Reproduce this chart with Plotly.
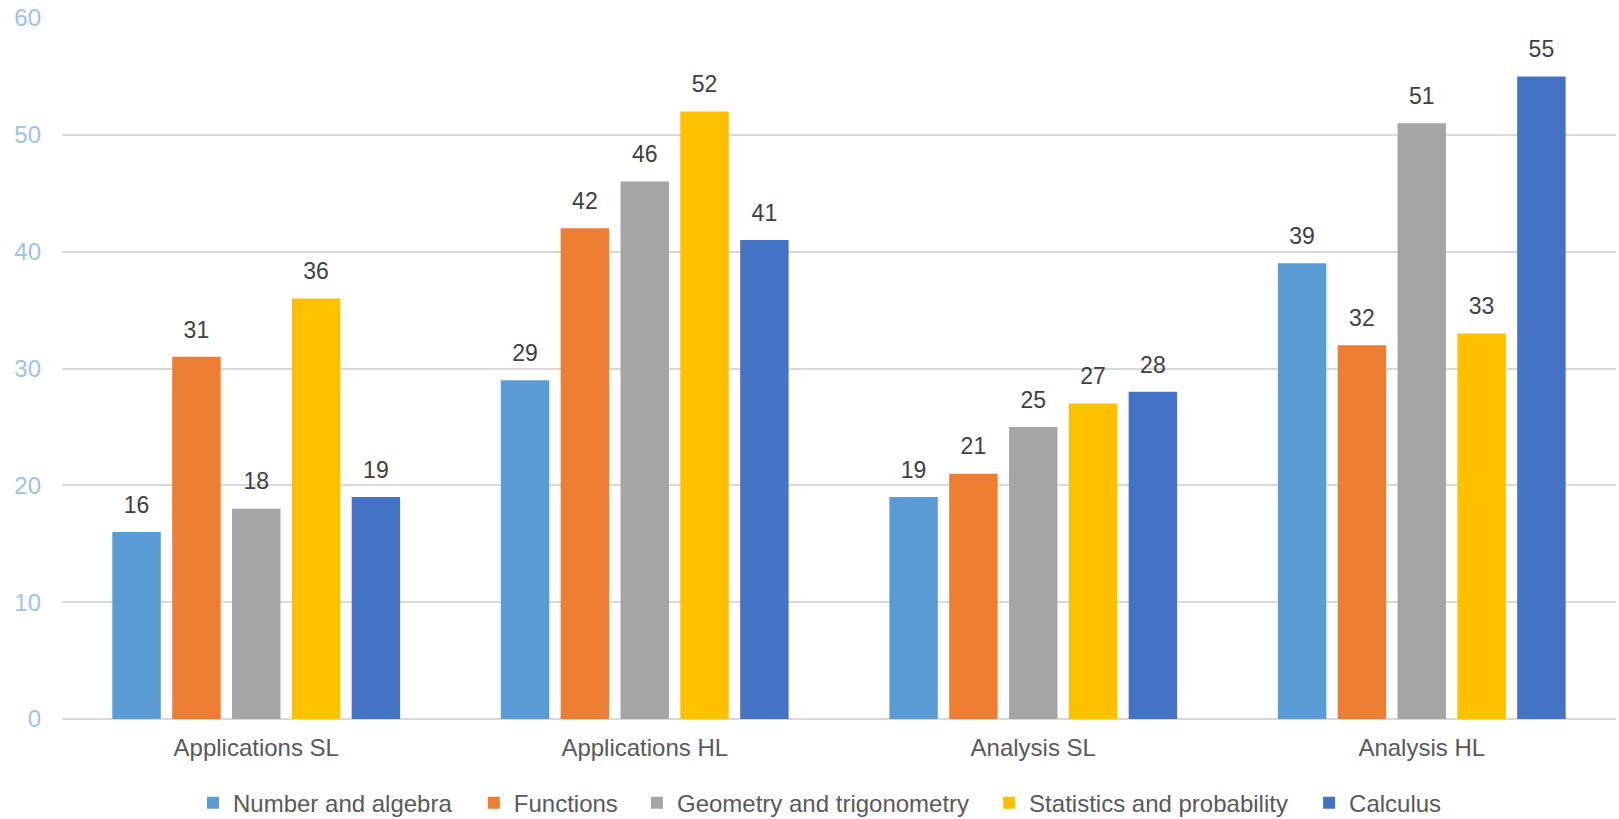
import plotly.graph_objects as go

categories = ["Applications SL", "Applications HL", "Analysis SL", "Analysis HL"]
series_names = ["Number and algebra", "Functions", "Geometry and trigonometry",
                "Statistics and probability", "Calculus"]
number_algebra = [16, 29, 19, 39]
functions = [31, 42, 21, 32]
geometry_trig = [18, 46, 25, 51]
stats_prob = [36, 52, 27, 33]
calculus = [19, 41, 28, 55]
y_ticks = [0, 10, 20, 30, 40, 50, 60]

series_values = [number_algebra, functions, geometry_trig, stats_prob, calculus]
colors = ["#5B9BD5", "#ED7D31", "#A5A5A5", "#FFC000", "#4472C4"]
legend_ids = ["legend", "legend2", "legend3", "legend4", "legend5"]
legend_x = [0.0843, 0.2650, 0.3700, 0.5966, 0.8025]

fig = go.Figure()
for name, vals, col, lid in zip(series_names, series_values, colors, legend_ids):
    fig.add_trace(go.Bar(
        x=categories, y=vals, name=name, marker_color=col,
        marker_line_width=0, legend=lid,
        text=[str(v) for v in vals], textposition="outside",
        texttemplate="<span style='font-size:23px'>%{text}</span><br> ",
        constraintext="none",
        textfont=dict(size=11, color="#404040", family="Liberation Sans, Arial"),
        cliponaxis=False,
    ))

legend_common = dict(orientation="h", xanchor="left", y=-0.12, yanchor="middle",
                     font=dict(size=24, color="#595959"), itemwidth=30,
                     bgcolor="rgba(0,0,0,0)")
legends = {lid: dict(x=lx, **legend_common) for lid, lx in zip(legend_ids, legend_x)}

fig.update_layout(
    width=1619, height=819,
    margin=dict(l=62, r=3, t=18, b=100, autoexpand=False),
    paper_bgcolor="white", plot_bgcolor="white",
    barmode="group", bargap=0.23, bargroupgap=0.19,
    font=dict(family="Liberation Sans, Arial", color="#595959", size=23),
    showlegend=True,
    xaxis=dict(showgrid=False, showline=False, ticks="", ticklabelstandoff=12,
               automargin=False, tickfont=dict(size=24, color="#595959")),
    yaxis=dict(range=[0, 60], tickvals=y_ticks, showgrid=True, gridcolor="#D9D9D9",
               gridwidth=1.5, zeroline=True, zerolinecolor="#D9D9D9", zerolinewidth=1.5,
               showline=False, ticks="", ticklabelstandoff=20, automargin=False,
               tickfont=dict(size=24, color="#9DC3E6")),
    **legends,
)

fig.write_html("out.html")
